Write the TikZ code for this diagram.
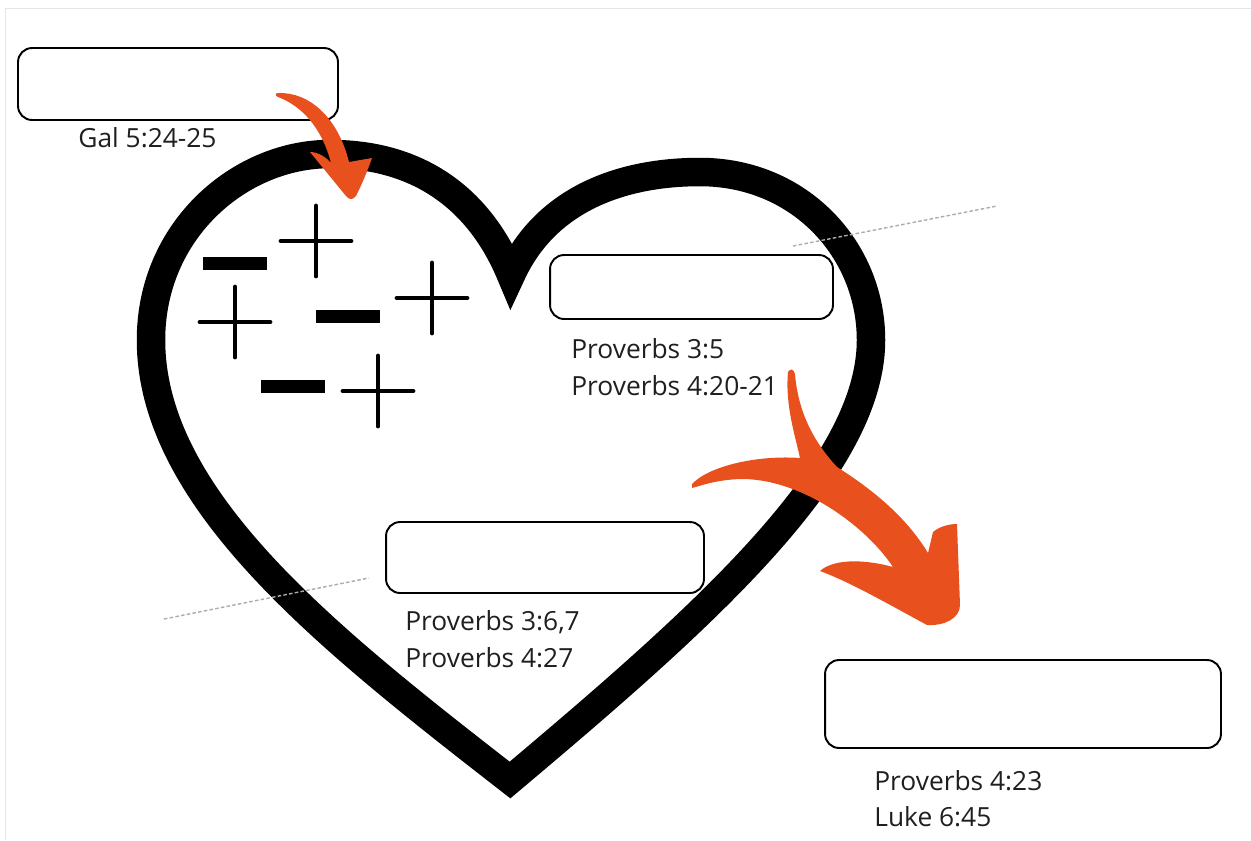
\documentclass[tikz,border=0pt]{standalone}
\usepackage{fontspec}
\setmainfont{Open Sans}
\definecolor{brush}{RGB}{232,80,30}
\definecolor{pageedge}{RGB}{228,228,234}
\tikzset{
  slot/.style={draw,line width=1.1pt,rounded corners=8pt,inner sep=0pt,outer sep=0pt},
  verse/.style={anchor=base west,inner sep=0pt,text=black!88,font=\fontsize{15}{18}\selectfont},
  plus/.style={line width=2.8pt,line cap=round},
  guide/.style={gray!65,line width=0.8pt,dash pattern=on 2pt off 1.3pt},
}
\begin{document}
\begin{tikzpicture}[x=0.02cm,y=-0.02cm]
        \useasboundingbox(0,0)rectangle(1251,840);
        \draw[pageedge,line width=0.8pt](5.5,840)--(5.5,8.5)--(1251,8.5);
        % heart
        \draw[line width=0.57cm,line join=miter](511,275)..controls(545,200)and(620,172)..(700,172)..controls(800,172)and(871,250)..(871,340)..controls(871,470)and(700,620)..(510,780)..controls(330,640)and(151,500)..(151,340)..controls(151,230)and(240,154)..(330,154)..controls(420,154)and(480,200)..cycle;
        % empty boxes
        \node[slot,minimum width=6.4cm,minimum height=1.44cm](b1) at (178,84){};
        \node[slot,minimum width=5.66cm,minimum height=1.28cm](b2) at (691.5,287){};
        \node[slot,minimum width=6.36cm,minimum height=1.42cm](b3) at (545,557.5){};
        \node[slot,minimum width=7.92cm,minimum height=1.76cm](b4) at (1023,704){};
        % signs
        \foreach \x/\y in {235/263.5,347.5/316,292.5/386}
            \fill(\x-32,\y-6.5)rectangle(\x+32,\y+6.5);
        \foreach \x/\y in {316/241,235/322,432/298,378/391}
            \draw[plus](\x-35,\y)--(\x+35,\y)(\x,\y-35)--(\x,\y+35);
        % guides
        \coordinate(g1) at (793,246);\coordinate(g2) at (997,206);
        \coordinate(g3) at (164,619);\coordinate(g4) at (369,578);
        \draw[guide](g1)--(g2);
        \draw[guide](g3)--(g4);
        % brush arrows
        \fill[brush](278,93)..controls(310,92)and(338,118)..(349,162)--(372,158)..controls(366,175)and(360,188)..(356,196)..controls(353,200)and(349,200)..(346,196)--(310,152)..controls(318,152)and(326,157)..(331,163)..controls(322,128)and(302,106)..(278,97)..controls(275,96)and(275,93)..cycle;
        \fill[brush](692,484)..controls(710,465)and(760,455)..(800,458)..controls(795,435)and(785,405)..(788,372)..controls(790,368)and(794,369)..(795,374)..controls(798,410)and(812,440)..(837,467)..controls(870,488)and(905,515)..(928,553)--(933,532)..controls(940,526)and(950,524)..(957,524)--(960,605)..controls(960,618)and(945,626)..(927,625)..controls(890,605)and(850,582)..(820,571)..controls(832,560)and(860,558)..(893,567)..controls(865,525)and(800,478)..(740,479)..controls(715,480)and(700,486)..(692,488)--cycle;
        % references
        \node[verse](t1) at (78,147){Gal 5:24-25};
        \node[verse](t2) at (571,358){Proverbs 3:5};
        \node[verse](t3) at (571,395){Proverbs 4:20-21};
        \node[verse](t4) at (405,630){Proverbs 3:6,7};
        \node[verse](t5) at (405,667){Proverbs 4:27};
        \node[verse](t6) at (874,790){Proverbs 4:23};
        \node[verse](t7) at (874,826){Luke 6:45};
\end{tikzpicture}
\end{document}
